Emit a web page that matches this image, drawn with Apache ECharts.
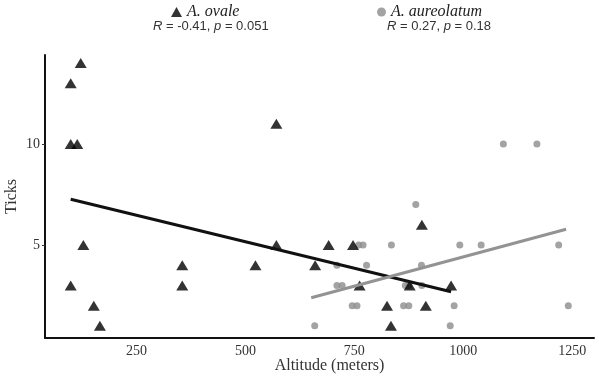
<!DOCTYPE html>
<html>
<head>
<meta charset="utf-8">
<script src="https://cdn.jsdelivr.net/npm/echarts@6/dist/echarts.min.js"></script>
<style>html,body{margin:0;padding:0;background:#fff}#main{width:599px;height:378px}</style>
</head>
<body>
<div id="main"></div>
<script>
// A. ovale: [altitude, ticks]
var ovaleData = [
  [99, 13], [122, 14], [99, 10], [114, 10], [128, 5], [99, 3], [152, 2], [166, 1],
  [355, 4], [355, 3], [523, 4], [571, 11], [571, 5],
  [660, 4], [691, 5], [747, 5], [905, 6], [762, 3], [877, 3],
  [825, 2], [914, 2], [834, 1], [972, 3]
];
// A. aureolatum
var aureoData = [
  [1092, 10], [1169, 10], [891, 7],
  [760, 5], [770, 5], [835, 5], [992, 5], [1041, 5], [1219, 5],
  [710, 4], [778, 4], [904, 4],
  [710, 3], [722, 3], [867, 3], [875, 3], [905, 3],
  [745, 2], [756, 2], [863, 2], [875, 2], [979, 2], [1241, 2],
  [659, 1], [970, 1]
];
// fitted lines (endpoints)
var ovaleFit = [[99, 7.26], [972, 2.69]];
var aureoFit = [[651, 2.39], [1236, 5.78]];

var xTicks = [250, 500, 750, 1000, 1250];
var yTicks = [5, 10];

var myChart = echarts.init(document.getElementById('main'));

var serif = '"Liberation Serif", "DejaVu Serif", serif';
var sans = '"Liberation Sans", Arial, sans-serif';

option = {
  animation: false,
  backgroundColor: '#fff',
  title: [
    {
      text: '{i|R} = -0.41, {i|p} = 0.051',
      left: 148, top: 15,
      textStyle: { fontFamily: sans, fontSize: 13, fontWeight: 'normal', color: '#333',
        rich: { i: { fontFamily: sans, fontSize: 13, fontStyle: 'italic', color: '#333' } } }
    },
    {
      text: '{i|R} = 0.27, {i|p} = 0.18',
      left: 382, top: 15,
      textStyle: { fontFamily: sans, fontSize: 13, fontWeight: 'normal', color: '#333',
        rich: { i: { fontFamily: sans, fontSize: 13, fontStyle: 'italic', color: '#333' } } }
    }
  ],
  legend: [
    {
      data: ['A. ovale'], left: 166, top: -1, itemWidth: 11, itemHeight: 10, itemGap: 4,
      textStyle: { fontFamily: serif, fontSize: 16, fontStyle: 'italic', color: '#222' }
    },
    {
      data: ['A. aureolatum'], left: 372, top: -1, itemWidth: 9, itemHeight: 9, itemGap: 4,
      textStyle: { fontFamily: serif, fontSize: 16, fontStyle: 'italic', color: '#222' }
    }
  ],
  grid: { left: 45, right: 5, top: 55, bottom: 40, outerBoundsMode: 'none', containLabel: false },
  xAxis: {
    type: 'value', min: 40, max: 1300,
    name: 'Altitude (meters)', nameLocation: 'middle', nameGap: 20, nameMoveOverlap: false,
    nameTextStyle: { fontFamily: serif, fontSize: 16, color: '#333', padding: [0, 0, 0, 20] },
    axisLine: { lineStyle: { color: '#111', width: 2 } },
    axisTick: { show: false },
    splitLine: { show: false },
    axisLabel: { customValues: xTicks, fontFamily: serif, fontSize: 14, color: '#333', margin: 6,
      formatter: function (v) { return String(v); } }
  },
  yAxis: {
    type: 'value', min: 0.4, max: 14.4,
    name: 'Ticks', nameLocation: 'middle', nameGap: 25, nameMoveOverlap: false,
    nameTextStyle: { fontFamily: serif, fontSize: 16, color: '#333' },
    axisLine: { show: true, lineStyle: { color: '#111', width: 2 } },
    axisTick: { show: true, customValues: yTicks, length: 3, lineStyle: { color: '#333' } },
    splitLine: { show: false },
    axisLabel: { customValues: yTicks, fontFamily: serif, fontSize: 14, color: '#333', margin: 5 }
  },
  series: [
    {
      name: 'A. aureolatum', type: 'scatter', data: aureoData,
      symbol: 'circle', symbolSize: 7, itemStyle: { color: '#8c8c8c' }, z: 2
    },
    {
      name: 'A. ovale', type: 'scatter', data: ovaleData,
      symbol: 'triangle', symbolSize: [12, 10], itemStyle: { color: '#000' }, z: 3
    },
    {
      name: 'ovale fit', type: 'line', data: ovaleFit, symbol: 'none',
      lineStyle: { color: '#111', width: 3 }, z: 4
    },
    {
      name: 'aureolatum fit', type: 'line', data: aureoFit, symbol: 'none',
      lineStyle: { color: '#939393', width: 3 }, z: 4
    }
  ]
};

myChart.setOption(option);
</script>
</body>
</html>
